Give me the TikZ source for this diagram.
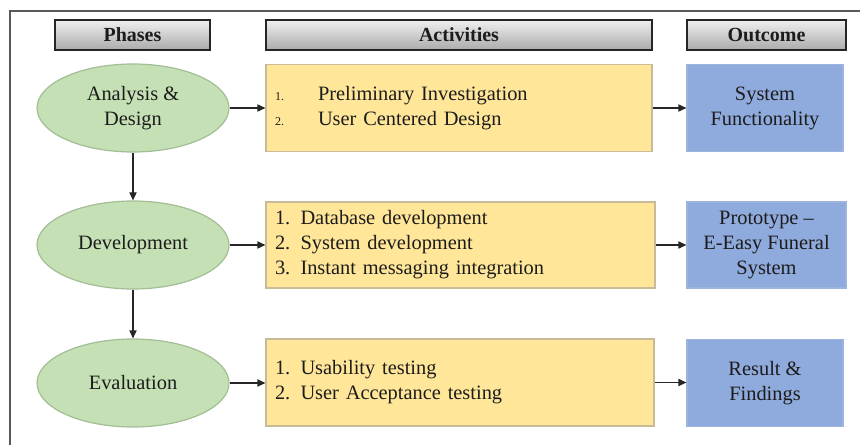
\documentclass[tikz,border=0pt]{standalone}
\usepackage{fontspec}
\setmainfont{Liberation Serif}
\usetikzlibrary{arrows.meta,shapes.geometric}
\definecolor{phasefill}{HTML}{C5E0B4}
\definecolor{phaseline}{HTML}{A3BE95}
\definecolor{taskfill}{HTML}{FFE699}
\definecolor{taskline}{HTML}{C8BC98}
\definecolor{resfill}{HTML}{8FAADC}
\definecolor{resline}{HTML}{9DB4DE}
\definecolor{ink}{HTML}{1C1C1C}
\tikzset{
    head/.style={draw=black!85, line width=0.6pt, top color=black!6, bottom color=black!33,
        minimum height=15pt, inner sep=0pt, font=\bfseries},
    phase/.style={ellipse, draw=phaseline, fill=phasefill, line width=0.6pt,
        minimum width=96pt, minimum height=44pt, inner sep=0pt, align=center},
    task/.style={draw=taskline, fill=taskfill, line width=0.6pt, minimum height=43.5pt,
        inner xsep=4.5pt, inner ysep=0pt, align=left},
    result/.style={draw=resline, fill=resfill, line width=0.6pt, minimum width=78pt,
        minimum height=43.5pt, inner sep=0pt, align=center},
    flow/.style={-{Triangle[length=4pt,width=3.6pt]}, line width=0.6pt, draw=black!85}
}
\newcommand{\smallnum}[1]{\makebox[21.5pt][l]{\fontsize{6}{7}\selectfont #1}}

\begin{document}
\begin{tikzpicture}[x=0.5pt, y=0.5pt, font=\fontsize{10.2}{12.5}\selectfont, text=ink]
\useasboundingbox (0,0) rectangle (860,444);
\begin{scope}
\clip (0,0) rectangle (860,444);
\draw[black!65, line width=0.8pt] (10,-20) rectangle (880,433);
\end{scope}

% column heads
\node[head, minimum width=77.5pt] (hphase) at (132.5,409) {Phases};
\node[head, minimum width=193pt] (htask) at (459,409) {Activities};
\node[head, minimum width=79.5pt] (hres) at (766.5,409) {Outcome};

% phases
\node[phase] (design) at (133,336) {Analysis \&\\Design};
\node[phase] (devel) at (133,199) {Development};
\node[phase] (eval) at (133,61) {Evaluation};

% activities
\node[task, text width=184pt] (t1) at (459,336) {%
    \smallnum{1.}Preliminary Investigation\\
    \smallnum{2.}User Centered Design};
\node[task, text width=185.5pt, minimum height=43pt] (t2) at (460.5,199) {%
    1. Database development\\
    2. System development\\
    3. Instant messaging integration};
\node[task, text width=185pt] (t3) at (460,61.5) {%
    1. Usability testing\\
    2. User Acceptance testing};

% outcomes
\node[result] (r1) at (765,336) {System\\Functionality};
\node[result, minimum width=79.5pt, minimum height=43pt] (r2) at (766.5,199) {Prototype --\\E-Easy Funeral\\System};
\node[result] (r3) at (765,61) {Result \&\\Findings};

\draw[flow] (design) -- (devel);
\draw[flow] (devel) -- (eval);
\draw[flow] (design.east) -- (t1.west |- design.east);
\draw[flow] (devel.east) -- (t2.west |- devel.east);
\draw[flow] (eval.east) -- (t3.west |- eval.east);
\draw[flow] (t1.east) -- (r1.west |- t1.east);
\draw[flow] (t2.east) -- (r2.west |- t2.east);
\draw[flow] (t3.east) -- (r3.west |- t3.east);
\end{tikzpicture}
\end{document}
